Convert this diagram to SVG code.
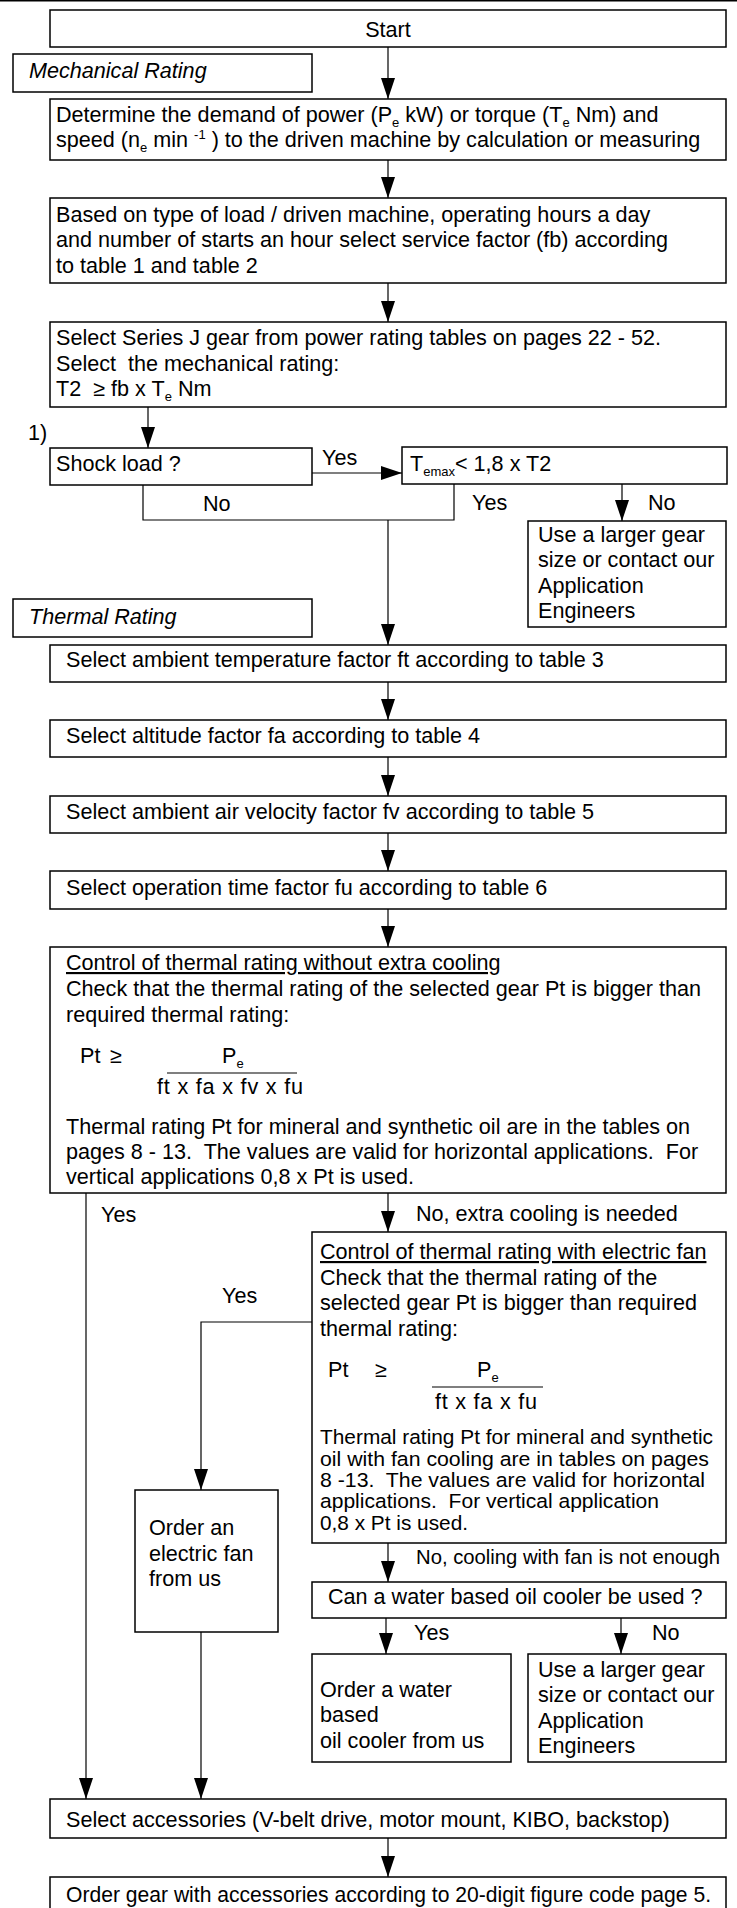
<svg xmlns="http://www.w3.org/2000/svg" width="737" height="1908" viewBox="0 0 737 1908">
<style>
text{font-family:"Liberation Sans",Arial,Helvetica,sans-serif;font-size:21.6px;fill:#000;white-space:pre}
.it{font-style:italic}
.u{text-decoration:underline}
.sub{font-size:13px}
.sm{font-size:20.5px}
.box{fill:#fff;stroke:#000;stroke-width:1.5}
.c{fill:none;stroke:#000;stroke-width:1.2}
.a{marker-end:url(#ah)}
.mid{text-anchor:middle}
</style>
<defs>
<marker id="ah" markerUnits="userSpaceOnUse" viewBox="0 0 21 14" refX="21" refY="7" markerWidth="21" markerHeight="14" orient="auto">
<path d="M0,0 L21,7 L0,14 z" fill="#000"/>
</marker>
</defs>
<rect x="0" y="0" width="737" height="1908" fill="#fff"/>
<line x1="0" y1="0.8" x2="737" y2="0.8" stroke="#000" stroke-width="1.5"/>

<g id="connectors">
<line class="c a" x1="388" y1="47" x2="388" y2="99"/>
<line class="c a" x1="388" y1="160" x2="388" y2="198"/>
<line class="c a" x1="388" y1="283" x2="388" y2="322"/>
<line class="c a" x1="148" y1="407" x2="148" y2="448"/>
<line class="c a" x1="312" y1="473" x2="402" y2="473"/>
<polyline class="c" points="143,485 143,520 454,520 454,484"/>
<line class="c a" x1="388" y1="520" x2="388" y2="645"/>
<line class="c a" x1="622" y1="484" x2="622" y2="521"/>
<line class="c a" x1="388" y1="682" x2="388" y2="720"/>
<line class="c a" x1="388" y1="757" x2="388" y2="796"/>
<line class="c a" x1="388" y1="833" x2="388" y2="871"/>
<line class="c a" x1="388" y1="909" x2="388" y2="947"/>
<line class="c a" x1="86" y1="1193" x2="86" y2="1799"/>
<line class="c a" x1="388" y1="1193" x2="388" y2="1232"/>
<polyline class="c a" points="312,1322 201,1322 201,1490"/>
<line class="c a" x1="388" y1="1543" x2="388" y2="1582"/>
<line class="c a" x1="386" y1="1618" x2="386" y2="1654"/>
<line class="c a" x1="621" y1="1618" x2="621" y2="1654"/>
<line class="c a" x1="201" y1="1632" x2="201" y2="1799"/>
<line class="c a" x1="388" y1="1838" x2="388" y2="1877"/>
<text x="322" y="465">Yes</text>
<text x="203" y="511">No</text>
<text x="472" y="510">Yes</text>
<text x="648" y="510">No</text>
<text x="101" y="1222">Yes</text>
<text x="416" y="1221">No, extra cooling is needed</text>
<text x="222" y="1303">Yes</text>
<text class="sm" x="416" y="1564" textLength="304" lengthAdjust="spacingAndGlyphs">No, cooling with fan is not enough</text>
<text x="414" y="1640">Yes</text>
<text x="652" y="1640">No</text>
</g>

<g id="start">
<rect class="box" x="50" y="10" width="676" height="37"/>
<text class="mid" x="388" y="37">Start</text>
</g>

<g id="mechanical-rating">
<rect class="box" x="13" y="54" width="299" height="38"/>
<text class="it" x="29" y="78">Mechanical Rating</text>
</g>

<g id="determine">
<rect class="box" x="50" y="99" width="676" height="61"/>
<text x="56" y="122">Determine the demand of power (P<tspan class="sub" dy="5">e</tspan><tspan dy="-5"> kW) or torque (T</tspan><tspan class="sub" dy="5">e</tspan><tspan dy="-5"> Nm) and</tspan></text>
<text x="56" y="147">speed (n<tspan class="sub" dy="5">e</tspan><tspan dy="-5"> min </tspan><tspan class="sub" dy="-8">-1</tspan><tspan dy="8"> ) to the driven machine by calculation or measuring</tspan></text>
</g>

<g id="service-factor">
<rect class="box" x="50" y="198" width="676" height="85"/>
<text x="56" y="222">Based on type of load / driven machine, operating hours a day</text>
<text x="56" y="247">and number of starts an hour select service factor (fb) according</text>
<text x="56" y="273">to table 1 and table 2</text>
</g>

<g id="select-gear">
<rect class="box" x="50" y="322" width="676" height="85"/>
<text x="56" y="345">Select Series J gear from power rating tables on pages 22 - 52.</text>
<text x="56" y="371">Select  the mechanical rating:</text>
<text x="56" y="396">T2  ≥ fb x T<tspan class="sub" dy="5">e</tspan><tspan dy="-5"> Nm</tspan></text>
</g>

<g id="note-1">
<text x="28" y="440">1)</text>
</g>

<g id="shock-load">
<rect class="box" x="50" y="448" width="262" height="37"/>
<text x="56" y="471">Shock load ?</text>
</g>

<g id="temax">
<rect class="box" x="402" y="447" width="325" height="37"/>
<text x="410" y="471">T<tspan class="sub" dy="5">emax</tspan><tspan dy="-5">&lt; 1,8 x T2</tspan></text>
</g>

<g id="larger-gear-1">
<rect class="box" x="528" y="521" width="198" height="106"/>
<text x="538" y="542">Use a larger gear</text>
<text x="538" y="567">size or contact our</text>
<text x="538" y="593">Application</text>
<text x="538" y="618">Engineers</text>
</g>

<g id="thermal-rating">
<rect class="box" x="13" y="599" width="299" height="38"/>
<text class="it" x="29" y="624">Thermal Rating</text>
</g>

<g id="ambient">
<rect class="box" x="50" y="645" width="676" height="37"/>
<text x="66" y="667">Select ambient temperature factor ft according to table 3</text>
</g>

<g id="altitude">
<rect class="box" x="50" y="720" width="676" height="37"/>
<text x="66" y="743">Select altitude factor fa according to table 4</text>
</g>

<g id="air-velocity">
<rect class="box" x="50" y="796" width="676" height="37"/>
<text x="66" y="819">Select ambient air velocity factor fv according to table 5</text>
</g>

<g id="operation-time">
<rect class="box" x="50" y="871" width="676" height="38"/>
<text x="66" y="895">Select operation time factor fu according to table 6</text>
</g>

<g id="control-no-cooling">
<rect class="box" x="50" y="947" width="676" height="246"/>
<text class="u" x="66" y="970">Control of thermal rating without extra cooling</text>
<text x="66" y="996">Check that the thermal rating of the selected gear Pt is bigger than</text>
<text x="66" y="1022">required thermal rating:</text>
<text x="80" y="1063">Pt</text>
<text x="110" y="1063">≥</text>
<text x="222" y="1063">P<tspan class="sub" dy="5">e</tspan></text>
<line x1="167" y1="1073" x2="297" y2="1073" stroke="#000" stroke-width="1.2"/>
<text x="157" y="1094" textLength="146" lengthAdjust="spacing">ft x fa x fv x fu</text>
<text x="66" y="1134">Thermal rating Pt for mineral and synthetic oil are in the tables on</text>
<text x="66" y="1159">pages 8 - 13.  The values are valid for horizontal applications.  For</text>
<text x="66" y="1184">vertical applications 0,8 x Pt is used.</text>
</g>

<g id="control-fan">
<rect class="box" x="312" y="1232" width="414" height="311"/>
<text class="u" x="320" y="1259">Control of thermal rating with electric fan</text>
<text x="320" y="1285">Check that the thermal rating of the</text>
<text x="320" y="1310">selected gear Pt is bigger than required</text>
<text x="320" y="1336">thermal rating:</text>
<text x="328" y="1377">Pt</text>
<text x="375" y="1377">≥</text>
<text x="477" y="1377">P<tspan class="sub" dy="5">e</tspan></text>
<line x1="432" y1="1387" x2="543" y2="1387" stroke="#000" stroke-width="1.2"/>
<text x="435" y="1409" textLength="102" lengthAdjust="spacing">ft x fa x fu</text>
<text class="sm" x="320" y="1444" textLength="393" lengthAdjust="spacingAndGlyphs">Thermal rating Pt for mineral and synthetic</text>
<text class="sm" x="320" y="1466" textLength="389" lengthAdjust="spacingAndGlyphs">oil with fan cooling are in tables on pages</text>
<text class="sm" x="320" y="1487" textLength="385" lengthAdjust="spacingAndGlyphs">8 -13.  The values are valid for horizontal</text>
<text class="sm" x="320" y="1508" textLength="339" lengthAdjust="spacingAndGlyphs">applications.  For vertical application</text>
<text class="sm" x="320" y="1530" textLength="148" lengthAdjust="spacingAndGlyphs">0,8 x Pt is used.</text>
</g>

<g id="order-fan">
<rect class="box" x="135" y="1490" width="143" height="142"/>
<text x="149" y="1535">Order an</text>
<text x="149" y="1561">electric fan</text>
<text x="149" y="1586">from us</text>
</g>

<g id="water-cooler-question">
<rect class="box" x="312" y="1582" width="414" height="36"/>
<text x="328" y="1604">Can a water based oil cooler be used ?</text>
</g>

<g id="order-water-cooler">
<rect class="box" x="312" y="1654" width="199" height="108"/>
<text x="320" y="1697">Order a water</text>
<text x="320" y="1722">based</text>
<text x="320" y="1748">oil cooler from us</text>
</g>

<g id="larger-gear-2">
<rect class="box" x="528" y="1654" width="198" height="108"/>
<text x="538" y="1677">Use a larger gear</text>
<text x="538" y="1702">size or contact our</text>
<text x="538" y="1728">Application</text>
<text x="538" y="1753">Engineers</text>
</g>

<g id="accessories">
<rect class="box" x="50" y="1799" width="676" height="39"/>
<text x="66" y="1827">Select accessories (V-belt drive, motor mount, KIBO, backstop)</text>
</g>

<g id="order-gear">
<rect class="box" x="50" y="1877" width="676" height="40"/>
<text x="66" y="1902" textLength="645" lengthAdjust="spacingAndGlyphs">Order gear with accessories according to 20-digit figure code page 5.</text>
</g>
</svg>
